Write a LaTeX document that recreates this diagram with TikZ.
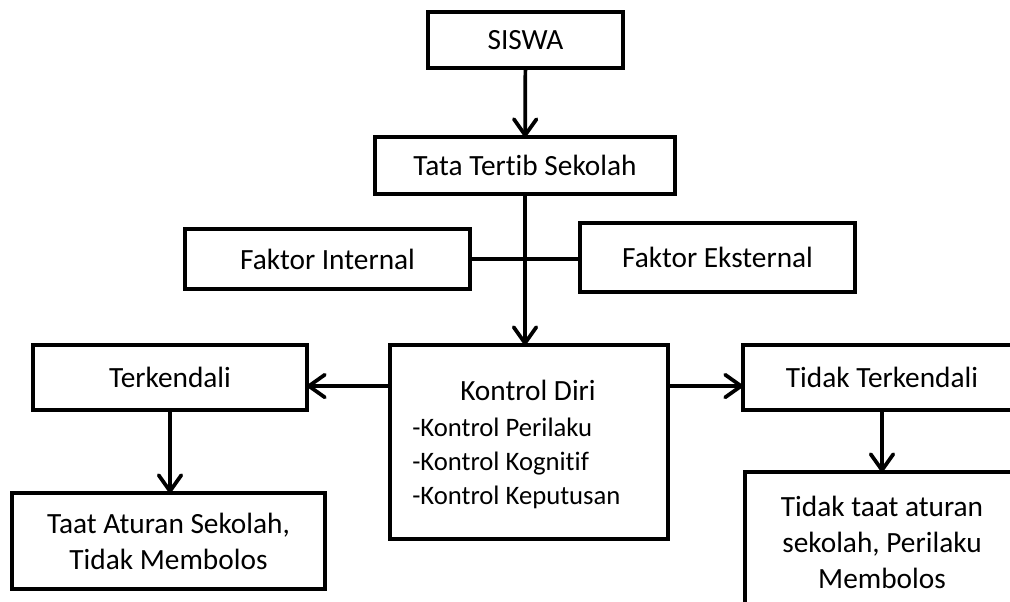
\documentclass[tikz,border=0pt]{standalone}
\usepackage{fontspec}
\setmainfont{Carlito}[Ligatures=NoCommon]
\usetikzlibrary{arrows.meta, positioning, calc}

\begin{document}
\begin{tikzpicture}[
  x=0.75pt, y=-0.75pt,
  every node/.style={font=\fontsize{22}{27}\selectfont},
  stage/.style={rectangle, draw=black, line width=3.2pt, fill=white, align=center, inner sep=0pt, outer sep=0pt},
  listitem/.style={anchor=base west, inner sep=0pt, font=\fontsize{20}{25}\selectfont},
  link/.style={line width=2.8pt, -{Straight Barb[length=12pt, width=17pt, round]}},
]
\useasboundingbox (0,0) rectangle (1010,602);
\clip (0,0) rectangle (1010,602);

\node[stage, minimum width=146.25pt, minimum height=42pt] (siswa) at (525.5,40) {SISWA};
\node[stage, minimum width=225pt, minimum height=42.75pt] (tata) at (525,165.5) {Tata Tertib Sekolah};
\node[stage, minimum width=213.75pt, minimum height=45pt] (internal) at (327.5,259) {Faktor Internal};
\node[stage, minimum width=206.25pt, minimum height=51.75pt] (eksternal) at (717.5,257.5) {Faktor Eksternal};

% Kontrol Diri
\node[stage, minimum width=208.5pt, minimum height=145.5pt] (kontrol) at (529,442) {};
\node[anchor=base, inner sep=0pt] (kdiri) at (528,400) {Kontrol Diri};
\node[listitem] (kperilaku) at (412,436) {-Kontrol Perilaku};
\node[listitem] (kkognitif) at (412,470) {-Kontrol Kognitif};
\node[listitem] (kkeputusan) at (412,504) {-Kontrol Keputusan};

\node[stage, minimum width=205.5pt, minimum height=48.75pt] (terkendali) at (170,377.5) {Terkendali};
\node[stage, minimum width=208.5pt, minimum height=48.75pt] (tidakterkendali) at (882,377.5) {Tidak Terkendali};
\node[stage, minimum width=234.75pt, minimum height=72pt] (taat) at (168.5,541) {Taat Aturan Sekolah,\\Tidak Membolos};
\node[stage, minimum width=205.5pt, minimum height=105pt] (tidaktaat) at (882,542) {Tidak taat aturan\\sekolah, Perilaku\\Membolos};

\draw[link] (siswa) -- (tata);
\draw[line width=3.2pt] (internal.east) -- (internal.east -| eksternal.west);
\draw[link] (tata.south) -- (tata.south |- kontrol.north);

\coordinate (kl) at ([yshift=-6.4pt]terkendali.east);
\coordinate (kr) at ([yshift=-6.4pt]tidakterkendali.west);
\draw[link] (kl -| kontrol.west) -- (kl);
\draw[link] (kr -| kontrol.east) -- (kr);

\draw[link] (terkendali.south) -- (terkendali.south |- taat.north);
\draw[link] (tidakterkendali) -- (tidaktaat);

\end{tikzpicture}
\end{document}
